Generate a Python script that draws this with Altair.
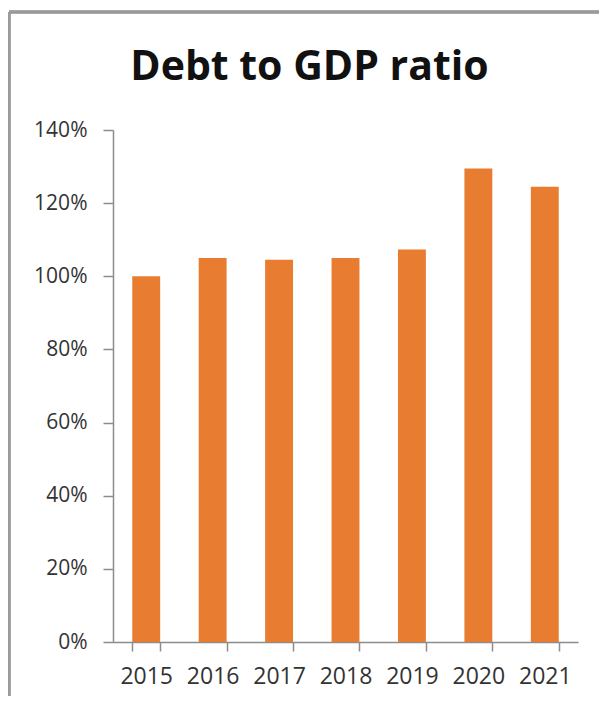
import altair as alt
import pandas as pd

years = ["2015", "2016", "2017", "2018", "2019", "2020", "2021"]
ratios = [1.00, 1.05, 1.045, 1.05, 1.073, 1.295, 1.245]
y_ticks = [0, 0.2, 0.4, 0.6, 0.8, 1.0, 1.2, 1.4]

df = pd.DataFrame({"year": years, "ratio": ratios})

W, H = 465, 512
FRAME = "#9a9a9a"

bars = alt.Chart(df).mark_bar(color="#E87D32").encode(
    x=alt.X("year:N", sort=years,
            scale=alt.Scale(paddingInner=0.58, paddingOuter=0.29),
            axis=alt.Axis(title=None, labelAngle=0, labelFontSize=23,
                          labelFont="Open Sans", labelColor="#333333",
                          labelPadding=14, tickBand="extent", tickSize=9,
                          tickColor="#8c8c8c", domainColor="#8c8c8c",
                          domainWidth=1.5, tickWidth=1.5, grid=False)),
    y=alt.Y("ratio:Q",
            scale=alt.Scale(domain=[0, 1.4], nice=False),
            axis=alt.Axis(title=None, values=y_ticks, format=".0%",
                          labelFontSize=21, labelFont="Open Sans",
                          labelColor="#333333", labelPadding=16,
                          tickSize=10, tickColor="#8c8c8c",
                          domainColor="#8c8c8c", domainWidth=1.5,
                          tickWidth=1.5, grid=False)),
)

frame_left = alt.Chart(df).mark_rule(color=FRAME, strokeWidth=2.5).encode(
    x=alt.value(-104), y=alt.value(-118), y2=alt.value(H + 60))
frame_top = alt.Chart(df).mark_rule(color=FRAME, strokeWidth=2.5).encode(
    x=alt.value(-104), x2=alt.value(W + 30), y=alt.value(-118))

chart = alt.layer(bars, frame_left, frame_top).properties(
    width=W, height=H,
    autosize=alt.AutoSizeParams(type="none"),
    padding={"left": 105, "top": 122, "right": 21, "bottom": 54},
    title=alt.TitleParams("Debt to GDP ratio", fontSize=41, font="Open Sans",
                          fontWeight="bold", color="#111111", anchor="middle",
                          frame="group", dx=-36, offset=0, dy=110,
                          baseline="alphabetic"),
).configure(background="white", view=alt.ViewConfig(stroke=None))

chart.save("out.html", embed_options={"renderer": "svg", "actions": False})
